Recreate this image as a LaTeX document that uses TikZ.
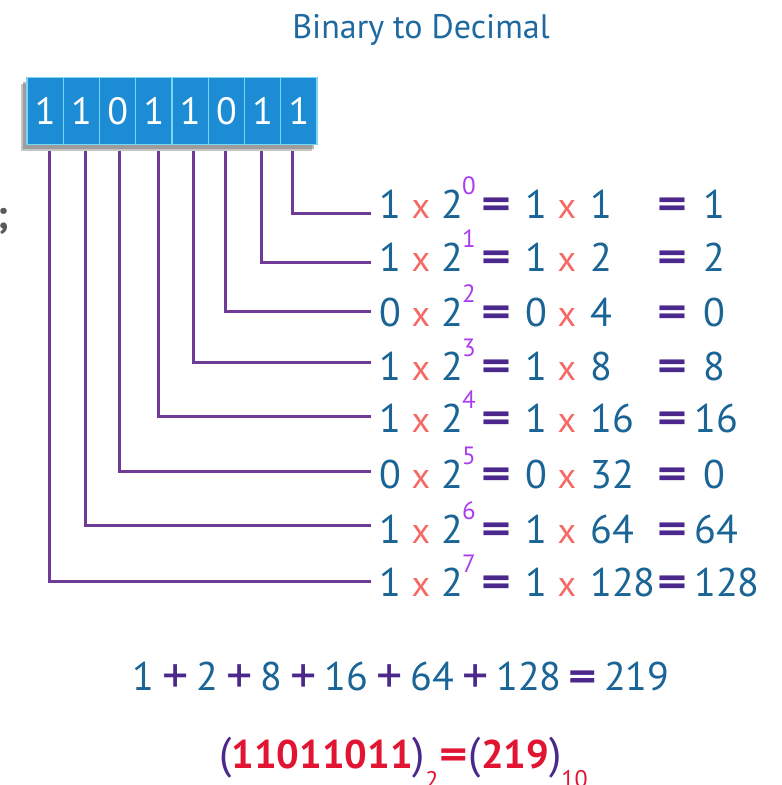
\documentclass[tikz,border=0pt]{standalone}
\usepackage{fontspec}
\usepackage{graphicx}
\setmainfont{PT Sans}
\definecolor{numblue}{RGB}{26,100,150}
\definecolor{xred}{RGB}{245,105,100}
\definecolor{eqpur}{RGB}{75,40,140}
\definecolor{suppur}{RGB}{170,60,240}
\definecolor{linepur}{RGB}{110,60,150}
\definecolor{boxblue}{RGB}{28,140,212}
\definecolor{boxedge}{RGB}{120,215,245}
\definecolor{titleblue}{RGB}{30,105,160}
\definecolor{resred}{RGB}{225,20,50}
\newcommand\sepx{\hspace{8pt}}
\newcommand\bigeq{\scalebox{1.35}[1]{\bfseries=}}
\newcommand\bigplus{\raisebox{-3pt}{\scalebox{1.3}{+}}}
\begin{document}
\begin{tikzpicture}[x=1pt,y=-1pt,
  txt/.style={inner sep=0pt,anchor=base},
  num/.style={txt,text=numblue,font=\fontsize{40}{40}\selectfont},
  times/.style={txt,text=xred,font=\fontsize{36}{36}\selectfont},
  eqs/.style={txt,text=eqpur,font=\fontsize{42}{42}\selectfont},
  supr/.style={txt,text=suppur,font=\fontsize{25}{25}\selectfont},
  cell/.style={draw=boxedge,line width=1.2pt,fill=boxblue,text=white,
    minimum width=36.25pt,minimum height=67pt,inner sep=0pt,
    font=\fontsize{38}{38}\selectfont},
  conn/.style={draw=linepur,line width=3pt}]
\useasboundingbox (0,0) rectangle (782,785);
% title
\node[txt,text=titleblue,font=\fontsize{34}{34}\selectfont] (title) at (421,38) {Binary to Decimal};
% stray mark at left edge
\node[txt,text=black!65,font=\fontsize{40}{40}\selectfont\bfseries] (semi) at (3,228) {;};
% box shadow
\fill[black!45,opacity=0.5] (21,84) rectangle (312,151);
\fill[black!55,opacity=0.5] (23,82) rectangle (314,149);
% cells
\foreach \j/\b in {1/1,2/1,3/0,4/1,5/1,6/0,7/1,8/1}
  \node[cell] (c\j) at ({27+36.25*\j-18.125},111) {\b};
% rows
\foreach \i/\tc/\ly/\vx/\a/\e/\v/\r/\ra/\rx in {
  1/204/213/292/1/0/1/1/base/714,
  2/257/262/261/1/1/2/2/base/714,
  3/312/311/225/0/2/4/0/base/714,
  4/366/362/193/1/3/8/8/base/714,
  5/418/416/158/1/4/16/16/base west/694,
  6/474/471/119/0/5/32/0/base/714,
  7/529/525/85/1/6/64/64/base west/694,
  8/582/581/49/1/7/128/128/base west/694}{
  \coordinate (t\i) at (\vx,151);
  \coordinate (e\i) at (371,\ly);
  \draw[conn] (t\i) |- (e\i);
  \node[num] (a\i) at (390.5,\tc+14) {\a};
  \node[times] (x\i) at (421,\tc+14) {x};
  \node[num] (b\i) at (452,\tc+14) {2};
  \node[supr] (s\i) at (469,\tc-10) {\e};
  \node[eqs] (q\i) at (496,\tc+14) {\bigeq};
  \node[num] (m\i) at (536,\tc+14) {\a};
  \node[times] (y\i) at (567,\tc+14) {x};
  \node[num,anchor=base west] (v\i) at (590,\tc+14) {\v};
  \node[eqs] (p\i) at (672,\tc+14) {\bigeq};
  \node[num,anchor=\ra] (r\i) at (\rx,\tc+14) {\r};
}
% sum
\node[num,anchor=base] (sum) at (401,690) {1\sepx{\color{eqpur}\bigplus}\sepx 2\sepx{\color{eqpur}\bigplus}\sepx 8\sepx{\color{eqpur}\bigplus}\sepx 16\sepx{\color{eqpur}\bigplus}\sepx 64\sepx{\color{eqpur}\bigplus}\sepx 128\hspace{7pt}{\color{eqpur}\bigeq}\hspace{7pt}219};
% final
\node[txt,anchor=base west,font=\fontsize{40}{40}\selectfont] (final) at (219,768)
  {{\fontsize{44}{44}\selectfont\color{eqpur}(}{\bfseries\color{resred}11011011}{\fontsize{44}{44}\selectfont\color{eqpur})}\raisebox{-20pt}{\fontsize{24}{24}\selectfont\color{resred}2}\hspace{1pt}{\color{resred}\bigeq}\hspace{1pt}{\fontsize{44}{44}\selectfont\color{eqpur}(}{\bfseries\color{resred}219}{\fontsize{44}{44}\selectfont\color{eqpur})}\raisebox{-19pt}{\fontsize{24}{24}\selectfont\color{resred}10}};
\end{tikzpicture}
\end{document}
